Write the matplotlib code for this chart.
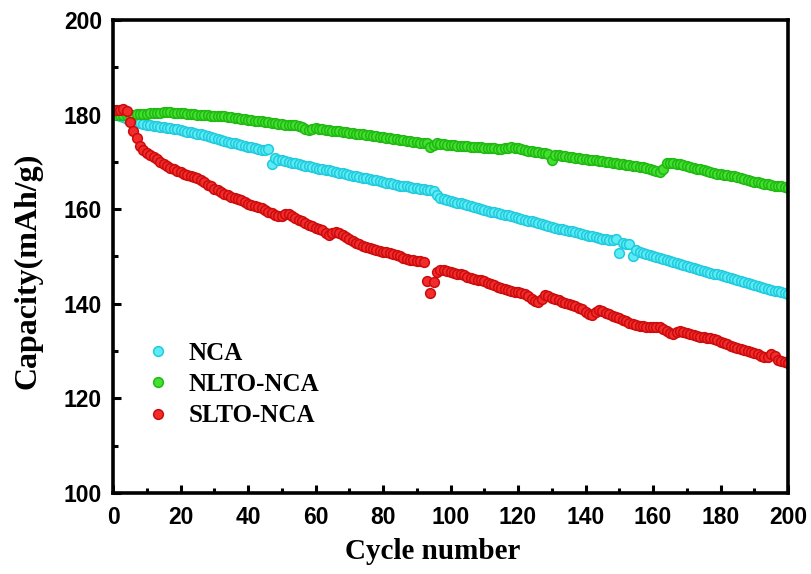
import numpy as np
import matplotlib
matplotlib.use("Agg")
import matplotlib.pyplot as plt
from matplotlib.ticker import MultipleLocator

cycles = list(range(1, 201))

nca = [
    180.1, 179.7, 179.4, 179.1, 178.9, 178.6, 178.4, 178.2, 178.0, 177.8,
    177.7, 177.6, 177.5, 177.4, 177.3, 177.2, 177.1, 177.0, 176.9, 176.7,
    176.6, 176.4, 176.3, 176.1, 175.9, 175.8, 175.6, 175.4, 175.2, 175.0,
    174.8, 174.7, 174.5, 174.3, 174.1, 173.9, 173.8, 173.6, 173.4, 173.2,
    173.1, 172.9, 172.8, 172.6, 172.5, 172.7, 169.6, 170.8, 170.5, 170.3,
    170.1, 170.0, 169.8, 169.7, 169.5, 169.4, 169.2, 169.1, 168.9, 168.8,
    168.6, 168.5, 168.3, 168.2, 168.0, 167.9, 167.7, 167.6, 167.4, 167.3,
    167.1, 167.0, 166.8, 166.7, 166.5, 166.4, 166.2, 166.1, 165.9, 165.8,
    165.6, 165.5, 165.3, 165.2, 165.0, 164.9, 164.8, 164.6, 164.5, 164.4,
    164.3, 164.2, 164.1, 164.0, 163.8, 163.0, 162.3, 162.1, 162.0, 161.8,
    161.6, 161.4, 161.3, 161.1, 160.9, 160.7, 160.5, 160.3, 160.1, 159.9,
    159.7, 159.5, 159.4, 159.2, 159.0, 158.8, 158.7, 158.5, 158.3, 158.1,
    157.9, 157.7, 157.6, 157.4, 157.2, 157.0, 156.8, 156.7, 156.5, 156.3,
    156.1, 155.9, 155.8, 155.6, 155.4, 155.3, 155.1, 154.9, 154.8, 154.6,
    154.4, 154.3, 154.1, 154.0, 153.8, 153.7, 153.5, 153.4, 153.6, 150.8,
    152.9, 152.7, 152.6, 150.0, 151.3, 151.0, 150.8, 150.5, 150.3, 150.0,
    149.8, 149.6, 149.4, 149.2, 149.0, 148.8, 148.6, 148.4, 148.2, 148.0,
    147.8, 147.6, 147.4, 147.2, 147.0, 146.8, 146.6, 146.4, 146.2, 146.0,
    145.8, 145.6, 145.4, 145.2, 145.0, 144.8, 144.6, 144.4, 144.2, 144.0,
    143.8, 143.6, 143.4, 143.2, 143.0, 142.8, 142.7, 142.5, 142.3, 142.1,
]

nlto_nca = [
    180.0, 180.0, 179.9, 179.9, 180.0, 180.0, 180.1, 180.1, 180.2, 180.2,
    180.3, 180.3, 180.4, 180.4, 180.5, 180.5, 180.5, 180.4, 180.4, 180.3,
    180.3, 180.2, 180.2, 180.1, 180.0, 180.0, 179.9, 179.9, 179.8, 179.8,
    179.7, 179.6, 179.6, 179.5, 179.4, 179.3, 179.2, 179.1, 179.0, 178.9,
    178.8, 178.7, 178.7, 178.6, 178.5, 178.4, 178.3, 178.2, 178.1, 178.0,
    177.9, 177.9, 177.8, 177.7, 177.6, 177.4, 177.0, 176.7, 176.9, 177.1,
    177.0, 176.9, 176.8, 176.7, 176.6, 176.6, 176.5, 176.4, 176.3, 176.2,
    176.1, 176.0, 175.9, 175.8, 175.7, 175.6, 175.5, 175.4, 175.3, 175.2,
    175.1, 175.0, 174.9, 174.8, 174.7, 174.6, 174.5, 174.4, 174.3, 174.2,
    174.1, 174.0, 173.9, 173.2, 173.6, 173.9, 173.8, 173.7, 173.6, 173.5,
    173.5, 173.4, 173.4, 173.3, 173.3, 173.2, 173.2, 173.1, 173.1, 173.0,
    173.0, 172.9, 172.9, 172.8, 172.8, 172.9, 173.0, 173.1, 173.0, 172.9,
    172.7, 172.5, 172.3, 172.2, 172.1, 172.0, 171.9, 171.8, 171.7, 170.3,
    171.5, 171.4, 171.3, 171.2, 171.1, 171.0, 170.9, 170.8, 170.7, 170.6,
    170.5, 170.4, 170.3, 170.2, 170.1, 170.0, 169.9, 169.8, 169.7, 169.6,
    169.5, 169.4, 169.3, 169.2, 169.1, 169.0, 168.9, 168.7, 168.5, 168.3,
    168.1, 167.8, 168.6, 169.7, 169.8, 169.7, 169.6, 169.5, 169.4, 169.2,
    169.0, 168.8, 168.6, 168.4, 168.2, 168.0, 167.8, 167.7, 167.5, 167.4,
    167.3, 167.2, 167.1, 167.0, 166.8, 166.6, 166.4, 166.2, 166.0, 165.8,
    165.7, 165.6, 165.4, 165.3, 165.2, 165.0, 164.9, 164.8, 164.6, 164.5,
]

slto_nca = [
    181.0, 181.0, 181.1, 180.8, 178.5, 176.6, 175.0, 173.4, 172.5, 171.9,
    171.5, 171.1, 170.6, 170.0, 169.5, 169.1, 168.7, 168.4, 168.1, 167.8,
    167.5, 167.3, 167.1, 166.9, 166.6, 166.2, 165.7, 165.2, 164.8, 164.3,
    164.0, 163.7, 163.3, 162.9, 162.6, 162.4, 162.2, 162.0, 161.6, 161.2,
    160.9, 160.7, 160.5, 160.2, 159.8, 159.4, 159.1, 158.8, 158.5, 158.6,
    159.0, 158.9, 158.6, 158.2, 157.8, 157.4, 157.0, 156.7, 156.4, 156.1,
    155.8, 155.5, 155.0, 154.6, 154.9, 155.2, 154.9, 154.5, 154.1, 153.7,
    153.3, 152.9, 152.6, 152.3, 152.0, 151.8, 151.5, 151.3, 151.1, 151.0,
    150.9, 150.8, 150.6, 150.3, 150.0, 149.7, 149.5, 149.3, 149.2, 149.1,
    149.0, 148.8, 144.8, 142.2, 144.6, 146.8, 147.2, 147.1, 147.0, 146.8,
    146.6, 146.4, 146.2, 146.0, 145.7, 145.4, 145.2, 145.1, 145.0, 144.8,
    144.5, 144.2, 143.9, 143.6, 143.4, 143.2, 143.0, 142.8, 142.6, 142.4,
    142.2, 142.0, 141.6, 141.0, 140.6, 140.4, 141.0, 141.8, 141.6, 141.3,
    141.0, 140.7, 140.4, 140.1, 139.9, 139.7, 139.5, 139.2, 138.8, 138.3,
    137.9, 137.7, 138.3, 138.6, 138.4, 138.1, 137.8, 137.5, 137.2, 136.9,
    136.6, 136.3, 136.0, 135.8, 135.6, 135.4, 135.3, 135.2, 135.2, 135.2,
    135.2, 135.1, 134.7, 134.2, 133.8, 133.6, 134.0, 134.2, 134.0, 133.8,
    133.6, 133.4, 133.2, 133.0, 132.9, 132.8, 132.8, 132.6, 132.3, 132.0,
    131.7, 131.4, 131.1, 130.8, 130.6, 130.4, 130.2, 130.0, 129.8, 129.6,
    129.3, 129.0, 128.8, 128.7, 129.3, 128.9, 128.2, 127.9, 127.6, 127.5,
]

series_names = ["NCA", "NLTO-NCA", "SLTO-NCA"]
x_ticks = [0, 20, 40, 60, 80, 100, 120, 140, 160, 180, 200]
y_ticks = [100, 120, 140, 160, 180, 200]

fig = plt.figure(figsize=(8.11, 5.74), dpi=100)
ax = fig.add_axes([113 / 811, 1 - 493 / 574, (788 - 113) / 811, (493 - 20) / 574])

styles = [
    ("#5cecf4", "#22cade"),
    ("#44e030", "#20b812"),
    ("#f22c2c", "#cc0c0c"),
]
for vals, name, (fc, ec) in zip([nca, nlto_nca, slto_nca], series_names, styles):
    ax.plot(cycles, vals, linestyle="none", marker="o", markersize=7.0,
            markerfacecolor=fc, markeredgecolor=ec, markeredgewidth=1.1,
            label=name)

ax.set_xlim(0, 200)
ax.set_ylim(100, 200)
ax.set_xticks(x_ticks)
ax.set_yticks(y_ticks)
ax.xaxis.set_minor_locator(MultipleLocator(10))
ax.yaxis.set_minor_locator(MultipleLocator(10))
ax.tick_params(which="major", direction="in", length=6, width=2.2, pad=8,
               labelsize=16.5)
ax.tick_params(which="minor", direction="in", length=3.5, width=2.2)
ax.tick_params(axis="x", which="major", pad=9)
for lab in ax.get_xticklabels() + ax.get_yticklabels():
    lab.set_fontfamily("Liberation Sans")
    lab.set_fontweight("bold")
for sp in ax.spines.values():
    sp.set_linewidth(2.6)

ax.set_xlabel("Cycle number", fontfamily="Liberation Serif", fontweight="bold",
              fontsize=21)
ax.set_ylabel("Capacity(mAh/g)", fontfamily="Liberation Serif", fontweight="bold",
              fontsize=23)
ax.xaxis.set_label_coords(0.473, -0.095)
ax.yaxis.set_label_coords(-0.105, 0.47)

leg = ax.legend(loc="upper left", bbox_to_anchor=(0.015, 0.367), frameon=False,
                handlelength=1.0, handletextpad=0.7, labelspacing=0.33,
                prop={"family": "Liberation Serif", "weight": "bold", "size": 18},
                markerscale=1.0)

fig.savefig("out.png", dpi=100)
